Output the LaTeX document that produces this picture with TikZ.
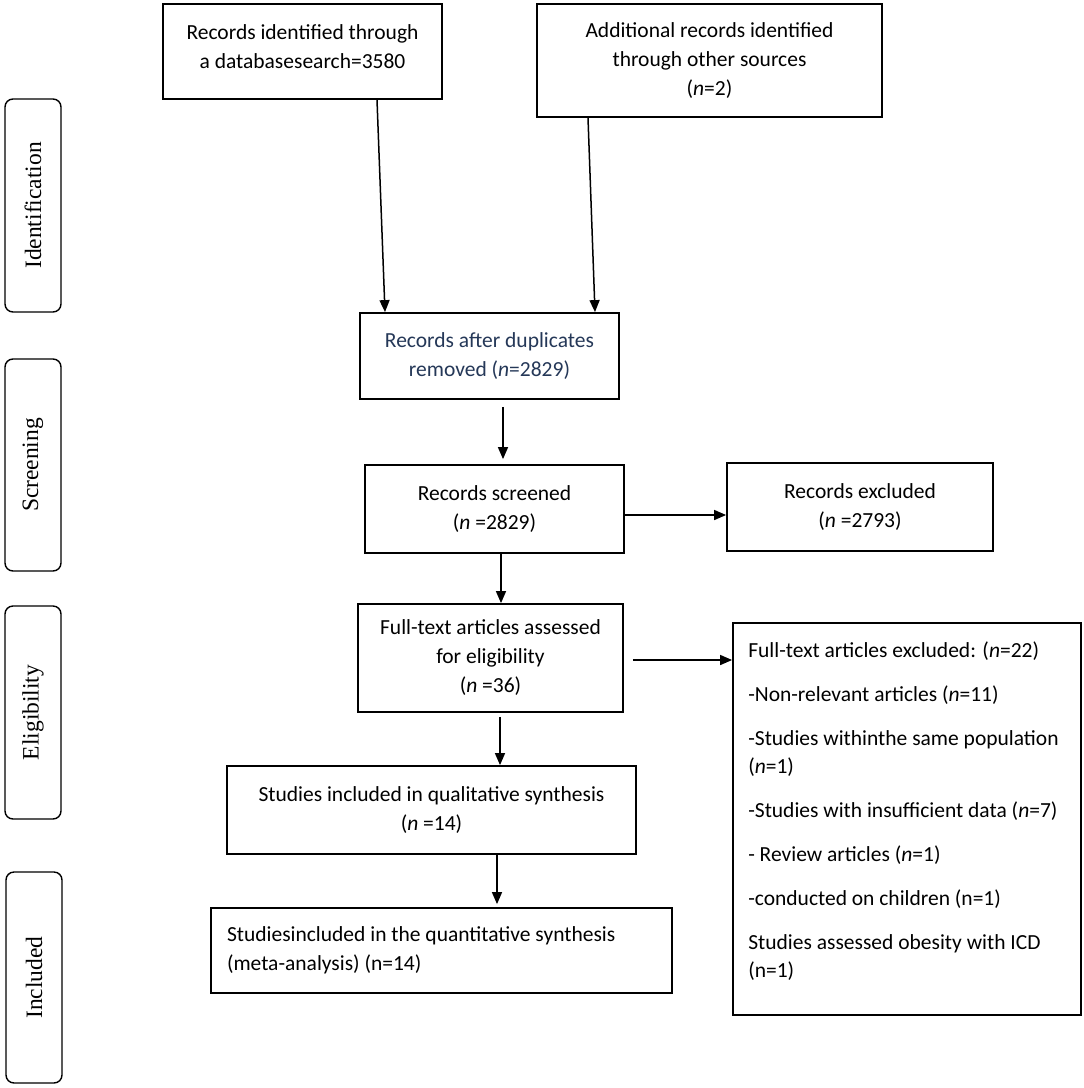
\documentclass[tikz,border=0pt]{standalone}
\usepackage{fontspec}
\setmainfont{Carlito}
\newfontfamily\tnr{Liberation Serif}
\usetikzlibrary{arrows.meta,calc}
\definecolor{navy}{HTML}{253858}
\begin{document}
\begin{tikzpicture}[x=1pt,y=-1pt,
  txt/.style={inner sep=0pt, font=\fontsize{21.5}{29}\selectfont},
  box/.style={draw, line width=1.8pt, inner sep=0pt, align=center, font=\fontsize{21.5}{29}\selectfont},
  side/.style={draw, line width=1.4pt, rounded corners=8pt, inner sep=0pt, rotate=90, font=\tnr\fontsize{23.5}{28}\selectfont, minimum height=56pt},
  arr/.style={line width=1.5pt, -{Triangle[length=12pt,width=10pt]}}]
\useasboundingbox (0,0) rectangle (1084,1088);
\fill[white] (0,0) rectangle (1084,1088);

% side labels
\node[side, minimum width=213pt] (s1) at (33,205.5) {Identification};
\node[side, minimum width=212pt] (s2) at (33,465) {Screening};
\node[side, minimum width=213pt] (s3) at (33,712.5) {Eligibility};
\node[side, minimum width=211pt] (s4) at (34,977.5) {Included};

% boxes
\node[box, minimum width=279pt, minimum height=95pt] (a) at (302.5,51.5) {};
\node[txt, align=center] (atxt) at ([yshift=5pt]a.center) {Records identified through\\a databasesearch=3580};
\node[box, minimum width=345pt, minimum height=113pt] (b) at (709.5,60.5) {Additional records identified\\through other sources\\(\textit{n}=2)};
\node[box, text=navy, minimum width=259pt, minimum height=86pt] (c) at (489.5,356) {Records after duplicates\\removed (\textit{n}=2829)};
\node[box, minimum width=259pt, minimum height=88pt] (d) at (494.5,509) {Records screened\\(\textit{n} =2829)};
\node[box, minimum width=266pt, minimum height=88pt] (e) at (860,507) {Records excluded\\(\textit{n} =2793)};
\node[box, minimum width=265pt, minimum height=108pt] (f) at (490.5,658) {Full-text articles assessed\\for eligibility\\(\textit{n} =36)};
\node[box, minimum width=409pt, minimum height=88pt] (g) at (431.5,810) {Studies included in qualitative synthesis\\(\textit{n} =14)};
\node[box, minimum width=461pt, minimum height=85pt, align=flush left, text width=429pt] (h) at (441.5,950.5) {Studiesincluded in the quantitative synthesis\\(meta-analysis) (n=14)};
\node[box, minimum width=348pt, minimum height=392pt] (i) at (907,819) {};
\node[txt, anchor=north west, align=flush left, text width=340pt, font=\fontsize{21.5}{28}\selectfont] (itxt) at ([xshift=16pt,yshift=-19pt]i.north west) {Full-text articles excluded: (\textit{n}=22)\\[16pt]
-Non-relevant articles (\textit{n}=11)\\[16pt]
-Studies withinthe same population\\
(\textit{n}=1)\\[16pt]
-Studies with insufficient data (\textit{n}=7)\\[16pt]
- Review articles (\textit{n}=1)\\[16pt]
-conducted on children (n=1)\\[16pt]
Studies assessed obesity with ICD\\
(n=1)};

% connectors
\draw[arr] ([xshift=74.5pt]a.south) -- ([xshift=-104.5pt]c.north);
\draw[arr] ([xshift=-121.5pt]b.south) -- ([xshift=105.5pt]c.north);
\draw[arr, shorten <=7pt, shorten >=5pt] ([xshift=13.5pt]c.south) -- ([xshift=8.5pt]d.north);
\draw[arr] ([yshift=-6pt]d.east) -- ([yshift=-6pt]d.east -| e.west);
\draw[arr] ([xshift=6.5pt]d.south) -- ([xshift=10.5pt]f.north);
\draw[arr, shorten <=4pt] ([xshift=9.5pt]f.south) -- ([xshift=68.5pt]g.north);
\draw[arr, shorten >=3pt] ([xshift=65.5pt]g.south) -- ([xshift=55.5pt]h.north);
\draw[arr, shorten <=9pt] ([yshift=-2pt]f.east) -- ([yshift=-2pt]f.east -| i.west);
\end{tikzpicture}
\end{document}
